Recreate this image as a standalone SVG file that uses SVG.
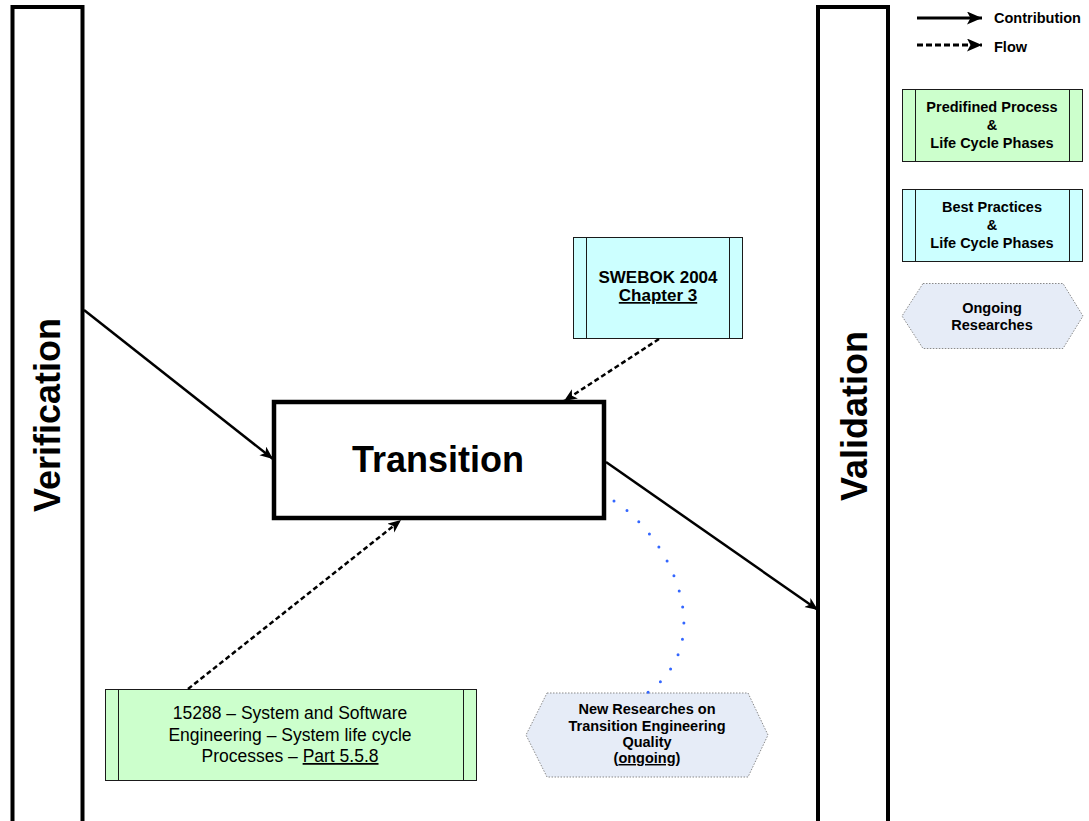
<svg xmlns="http://www.w3.org/2000/svg" width="1089" height="821" viewBox="0 0 1089 821">
  <style>
    text { font-family: "Liberation Sans", Arial, sans-serif; fill: #000; }
    .b { font-weight: bold; }
    .bar { fill: #fff; stroke: #000; stroke-width: 4; }
    .main { fill: #fff; stroke: #000; stroke-width: 4.5; }
    .green { fill: #ccffcc; stroke: #1a1a1a; stroke-width: 1; }
    .cyan { fill: #ccffff; stroke: #1a1a1a; stroke-width: 1; }
    .div { stroke: #1a1a1a; stroke-width: 1; }
    .hex { fill: #e6ecf7; stroke: #8a8a8a; stroke-width: 1; stroke-dasharray: 1.5 1.5; }
    .solid { fill: none; stroke: #000; stroke-width: 2.5; marker-end: url(#head); }
    .dash { fill: none; stroke: #000; stroke-width: 2.5; stroke-dasharray: 5 3; marker-end: url(#head); }
    .key-solid { fill: none; stroke: #000; stroke-width: 3; marker-end: url(#head-key); }
    .key-dash { fill: none; stroke: #000; stroke-width: 3; stroke-dasharray: 6 3; marker-end: url(#head-key); }
    .dots { fill: none; stroke: #3366ff; stroke-width: 3; stroke-linecap: round; stroke-dasharray: 0 16.2; }
  </style>
  <defs>
    <marker id="head" markerUnits="userSpaceOnUse" markerWidth="14" markerHeight="12" refX="13" refY="5.5" orient="auto">
      <path d="M0,0 L13,5.5 L0,11 L3.5,5.5 z" fill="#000"/>
    </marker>
    <marker id="head-key" markerUnits="userSpaceOnUse" markerWidth="16" markerHeight="14" refX="15" refY="6.5" orient="auto">
      <path d="M0,0 L15,6.5 L0,13 L3.5,6.5 z" fill="#000"/>
    </marker>
  </defs>

  <rect width="1089" height="821" fill="#fff"/>

  <!-- side bars -->
  <g id="verification">
    <rect class="bar" x="12.5" y="7" width="70" height="830"/>
    <text class="b" font-size="36" text-anchor="middle" transform="translate(60,415) rotate(-90)">Verification</text>
  </g>
  <g id="validation">
    <rect class="bar" x="818" y="7" width="70" height="830"/>
    <text class="b" font-size="36" text-anchor="middle" transform="translate(867,416) rotate(-90)">Validation</text>
  </g>

  <!-- central process -->
  <g id="transition">
    <rect class="main" x="274" y="402" width="330" height="116"/>
    <text class="b" font-size="36" x="438" y="472" text-anchor="middle">Transition</text>
  </g>

  <!-- sources -->
  <g id="swebok">
    <rect class="cyan" x="573.5" y="237.5" width="169" height="101"/>
    <line class="div" x1="586.5" y1="237.5" x2="586.5" y2="338.5"/>
    <line class="div" x1="729.5" y1="237.5" x2="729.5" y2="338.5"/>
    <text class="b" font-size="17" x="658" y="283" text-anchor="middle">SWEBOK 2004</text>
    <text class="b" font-size="17" x="658" y="301" text-anchor="middle" text-decoration="underline">Chapter 3</text>
  </g>

  <g id="iso15288">
    <rect class="green" x="105.5" y="689.5" width="371" height="91"/>
    <line class="div" x1="118.5" y1="689.5" x2="118.5" y2="780.5"/>
    <line class="div" x1="463.5" y1="689.5" x2="463.5" y2="780.5"/>
    <text font-size="17.5" x="290" y="719" text-anchor="middle">15288 – System and Software</text>
    <text font-size="17.5" x="290" y="741" text-anchor="middle">Engineering – System life cycle</text>
    <text font-size="17.5" x="290" y="762" text-anchor="middle">Processes – <tspan text-decoration="underline">Part 5.5.8</tspan></text>
  </g>

  <g id="new-researches">
    <polygon class="hex" points="547,693 748,693 768,735 748,777 547,777 526,735"/>
    <text class="b" font-size="14.5" text-anchor="middle" x="647" y="714">New Researches on</text>
    <text class="b" font-size="14.5" text-anchor="middle" x="647" y="731">Transition Engineering</text>
    <text class="b" font-size="14.5" text-anchor="middle" x="647" y="747">Quality</text>
    <text class="b" font-size="14.5" text-anchor="middle" x="647" y="763">(<tspan text-decoration="underline">ongoing</tspan>)</text>
  </g>

  <!-- legend -->
  <g id="legend">
    <line class="key-solid" x1="917" y1="18" x2="982" y2="18"/>
    <text class="b" font-size="14.5" x="994" y="23">Contribution</text>
    <line class="key-dash" x1="917" y1="45" x2="982" y2="45"/>
    <text class="b" font-size="14.5" x="994" y="52">Flow</text>
  </g>

  <g id="key-predefined">
    <rect class="green" x="902.5" y="89.5" width="180" height="72"/>
    <line class="div" x1="915.5" y1="89.5" x2="915.5" y2="161.5"/>
    <line class="div" x1="1069.5" y1="89.5" x2="1069.5" y2="161.5"/>
    <text class="b" font-size="14.5" text-anchor="middle" x="992" y="112">Predifined Process</text>
    <text class="b" font-size="14.5" text-anchor="middle" x="992" y="130">&amp;</text>
    <text class="b" font-size="14.5" text-anchor="middle" x="992" y="148">Life Cycle Phases</text>
  </g>

  <g id="key-best-practices">
    <rect class="cyan" x="902.5" y="189.5" width="180" height="72"/>
    <line class="div" x1="915.5" y1="189.5" x2="915.5" y2="261.5"/>
    <line class="div" x1="1069.5" y1="189.5" x2="1069.5" y2="261.5"/>
    <text class="b" font-size="14.5" text-anchor="middle" x="992" y="212">Best Practices</text>
    <text class="b" font-size="14.5" text-anchor="middle" x="992" y="230">&amp;</text>
    <text class="b" font-size="14.5" text-anchor="middle" x="992" y="248">Life Cycle Phases</text>
  </g>

  <g id="key-ongoing">
    <polygon class="hex" points="923,283.5 1063,283.5 1083,316 1063,348.5 923,348.5 902,316"/>
    <text class="b" font-size="14.5" text-anchor="middle" x="992" y="313">Ongoing</text>
    <text class="b" font-size="14.5" text-anchor="middle" x="992" y="330">Researches</text>
  </g>

  <!-- connectors -->
  <g id="connectors">
    <line class="solid" x1="84" y1="310" x2="273" y2="459"/>
    <line class="solid" x1="606" y1="462" x2="818" y2="610"/>
    <line class="dash" x1="659" y1="339" x2="564" y2="401"/>
    <line class="dash" x1="188" y1="689" x2="401" y2="520"/>
    <path class="dots" d="M614,501 C668,535 722,640 647,693"/>
  </g>
</svg>
